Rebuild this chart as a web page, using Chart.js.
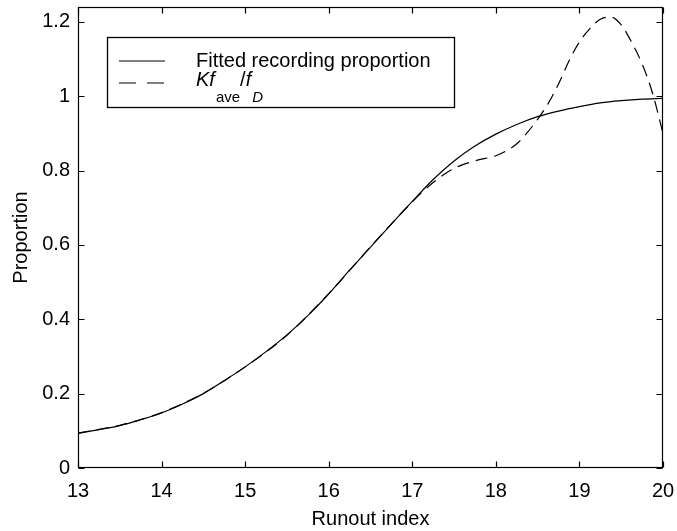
<!DOCTYPE html>
<html>
<head>
<meta charset="utf-8">
<script src="https://cdn.jsdelivr.net/npm/chart.js@4.4.1/dist/chart.umd.min.js"></script>
<style>
  body { margin: 0; background: #fff; }
  canvas { display: block; }
</style>
</head>
<body>
<canvas id="propChart" width="677" height="531"></canvas>
<script>
  // fitted recording proportion (solid)
  const runoutIndex = [13, 13.25, 13.5, 13.75, 14, 14.25, 14.5, 14.75, 15, 15.25, 15.5, 15.75, 16, 16.25, 16.5, 16.75, 17, 17.25, 17.5, 17.75, 18, 18.25, 18.5, 18.75, 19, 19.25, 19.5, 19.75, 20];
  const fittedProportion = [0.093, 0.103, 0.114, 0.13, 0.148, 0.172, 0.2, 0.235, 0.272, 0.313, 0.358, 0.41, 0.468, 0.532, 0.594, 0.656, 0.717, 0.776, 0.826, 0.866, 0.898, 0.924, 0.945, 0.96, 0.972, 0.982, 0.988, 0.992, 0.994];

  // K f_ave / f_D (dashed)
  const ratioIndex = [13, 13.5, 14, 14.5, 15, 15.5, 16, 16.5, 17, 17.25, 17.5, 17.75, 18, 18.125, 18.25, 18.375, 18.5, 18.625, 18.75, 18.875, 19, 19.125, 19.25, 19.375, 19.5, 19.625, 19.75, 19.875, 20];
  const ratioValues = [0.094, 0.115, 0.149, 0.201, 0.272, 0.357, 0.469, 0.595, 0.716, 0.768, 0.806, 0.826, 0.84, 0.853, 0.872, 0.902, 0.938, 0.98, 1.033, 1.095, 1.146, 1.182, 1.207, 1.213, 1.192, 1.145, 1.087, 1.008, 0.9];

  const xTicks = [13, 14, 15, 16, 17, 18, 19, 20];
  const yTicks = [0, 0.2, 0.4, 0.6, 0.8, 1, 1.2];

  const FONT = "'Liberation Sans', Arial, Helvetica, sans-serif";
  const axisFont = { family: FONT, size: 20 };

  // box, inward ticks and the legend, matlab style
  const axesBox = {
    id: "axesBox",
    afterDraw(chart) {
      const ctx = chart.ctx;
      const a = chart.chartArea;
      const xs = chart.scales.x;
      const ys = chart.scales.y;
      const L = Math.round(a.left) + 0.5, R = Math.round(a.right) - 0.5;
      const T = Math.round(a.top) + 0.5, B = Math.round(a.bottom) - 0.5;
      ctx.save();
      ctx.strokeStyle = "#000";
      ctx.lineWidth = 1.2;
      ctx.setLineDash([]);
      ctx.strokeRect(L, T, R - L, B - T);
      ctx.beginPath();
      xTicks.forEach((v) => {
        const px = Math.round(xs.getPixelForValue(v)) + 0.5;
        ctx.moveTo(px, B); ctx.lineTo(px, B - 6);
        ctx.moveTo(px, T); ctx.lineTo(px, T + 6);
      });
      yTicks.forEach((v) => {
        const py = Math.round(ys.getPixelForValue(v)) + 0.5;
        ctx.moveTo(L, py); ctx.lineTo(L + 6, py);
        ctx.moveTo(R, py); ctx.lineTo(R - 6, py);
      });
      ctx.stroke();

      // legend
      const bx = 107.5, by = 37.5, bw = 347, bh = 70;
      ctx.fillStyle = "#fff";
      ctx.fillRect(bx, by, bw, bh);
      ctx.lineWidth = 1.3;
      ctx.strokeRect(bx, by, bw, bh);

      const ds = chart.data.datasets;
      ctx.lineWidth = 1.1;
      ctx.beginPath();
      ctx.setLineDash(ds[0].borderDash || []);
      ctx.moveTo(119, 61); ctx.lineTo(165, 61);
      ctx.stroke();
      ctx.beginPath();
      ctx.setLineDash([17, 11]);
      ctx.moveTo(119, 83); ctx.lineTo(165, 83);
      ctx.stroke();
      ctx.setLineDash([]);

      ctx.fillStyle = "#000";
      ctx.textBaseline = "alphabetic";
      ctx.textAlign = "left";
      ctx.font = "20px " + FONT;
      ctx.fillText(ds[0].label, 196, 67);

      let x = 196;
      const y2 = 86;
      const part = (txt, font, y) => {
        ctx.font = font;
        ctx.fillText(txt, x, y);
        x += ctx.measureText(txt).width;
      };
      part("K", "italic 20px " + FONT, y2);
      part("f", "italic 20px " + FONT, y2);
      x += 1;
      part("ave", "15px " + FONT, 102);
      part("/", "20px " + FONT, y2);
      part("f", "italic 20px " + FONT, y2);
      x += 1;
      part("D", "italic 15px " + FONT, 102);
      ctx.restore();
    },
  };

  const ctx = document.getElementById("propChart").getContext("2d");

  const propChart = new Chart(ctx, {
    type: "line",
    data: {
      datasets: [
        {
          label: "Fitted recording proportion",
          data: runoutIndex.map((x, i) => ({ x: x, y: fittedProportion[i] })),
          borderColor: "#000",
          borderWidth: 1.2,
          pointRadius: 0,
          cubicInterpolationMode: "monotone",
        },
        {
          label: "Kf_ave/f_D",
          data: ratioIndex.map((x, i) => ({ x: x, y: ratioValues[i] })),
          borderColor: "#000",
          borderWidth: 1.2,
          borderDash: [12, 7],
          pointRadius: 0,
          cubicInterpolationMode: "monotone",
        },
      ],
    },
    options: {
      responsive: false,
      animation: false,
      layout: { padding: { left: 0, right: 14, top: 7, bottom: 0 } },
      plugins: {
        legend: { display: false },
        tooltip: { enabled: false },
      },
      scales: {
        x: {
          type: "linear",
          min: 13,
          max: 20,
          ticks: { stepSize: 1, color: "#000", font: axisFont, padding: 11, maxRotation: 0 },
          grid: { display: false, drawTicks: false },
          border: { display: false },
          title: { display: true, text: "Runout index", color: "#000", font: axisFont, padding: { top: 0, bottom: 0 } },
          afterFit(scale) {
            scale.height = 63;
            scale.paddingLeft = 0;
            scale.paddingRight = 0;
          },
        },
        y: {
          type: "linear",
          min: 0,
          max: 1.24,
          ticks: {
            stepSize: 0.2,
            color: "#000",
            font: axisFont,
            padding: 8,
            callback: (v) => String(+v.toFixed(2)),
          },
          afterBuildTicks(scale) {
            scale.ticks = yTicks.map((v) => ({ value: v }));
          },
          grid: { display: false, drawTicks: false },
          border: { display: false },
          title: { display: true, text: "Proportion", color: "#000", font: axisFont, padding: { top: 9, bottom: 0 } },
          afterFit(scale) {
            scale.width = 78;
            scale.paddingTop = 0;
            scale.paddingBottom = 0;
          },
        },
      },
    },
    plugins: [axesBox],
  });
</script>
</body>
</html>
